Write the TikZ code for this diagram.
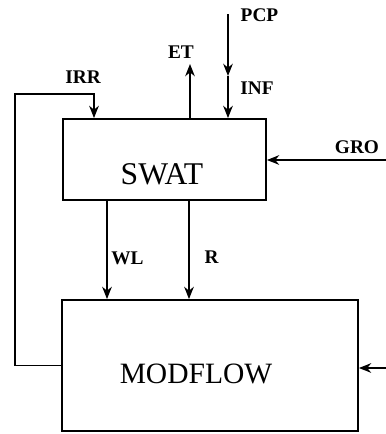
\documentclass[tikz,border=0pt]{standalone}
\usepackage{fontspec}
\setmainfont{Liberation Serif}
\usetikzlibrary{arrows.meta,positioning,calc}

\begin{document}
\begin{tikzpicture}[
  x=0.02cm, y=-0.02cm,
  box/.style={rectangle, draw=black, line width=1.1pt, inner sep=0pt},
  modeltxt/.style={font=\fontsize{16.8}{18}\selectfont, inner sep=0pt},
  lbl/.style={font=\fontsize{11}{13}\selectfont\bfseries, inner sep=0pt},
  arr/.style={-{Stealth[length=7pt, width=5.5pt]}, line width=0.7pt}
]
  \useasboundingbox (0,0) rectangle (386,434);

  \node[box, minimum width=4.06cm, minimum height=1.62cm] (swat) at (164.5,159.5) {};
  \node[box, minimum width=5.92cm, minimum height=2.62cm] (modflow) at (210,365.5) {};
  \node[modeltxt, font=\fontsize{18}{20}\selectfont] (swattxt) at (162,174) {SWAT};
  \node[modeltxt] (modtxt) at (196,374) {MODFLOW};

  \coordinate (irr) at (94,94);
  \coordinate (et) at (190,64);
  \coordinate (pcp) at (228,14);
  \coordinate (pcpmid) at (228,76);
  \coordinate (gro) at (386,160);
  \coordinate (wl) at (107,250);
  \coordinate (r) at (189,250);
  \coordinate (rch) at (386,368);

  \draw[arr] (modflow.west) -- ++(-46,0) |- (irr) -- (irr |- swat.north);
  \draw[arr] (swat.north -| et) -- (et);
  \draw[arr] (pcp) -- (pcpmid);
  \draw[arr] (pcpmid) -- (pcpmid |- swat.north);
  \draw[arr] (gro) -- (gro -| swat.east);
  \draw[arr] (swat.south -| wl) -- (modflow.north -| wl);
  \draw[arr] (swat.south -| r) -- (modflow.north -| r);
  \draw[arr] (rch) -- (rch -| modflow.east);

  \node[lbl] (irrlbl) at (83,77) {IRR};
  \node[lbl] (etlbl) at (181,52) {ET};
  \node[lbl] (pcplbl) at (259.5,15) {PCP};
  \node[lbl] (inflbl) at (257,88) {INF};
  \node[lbl] (grolbl) at (357,147) {GRO};
  \node[lbl] (wllbl) at (127.5,258.5) {WL};
  \node[lbl] (rlbl) at (211.5,257.5) {R};
\end{tikzpicture}
\end{document}
